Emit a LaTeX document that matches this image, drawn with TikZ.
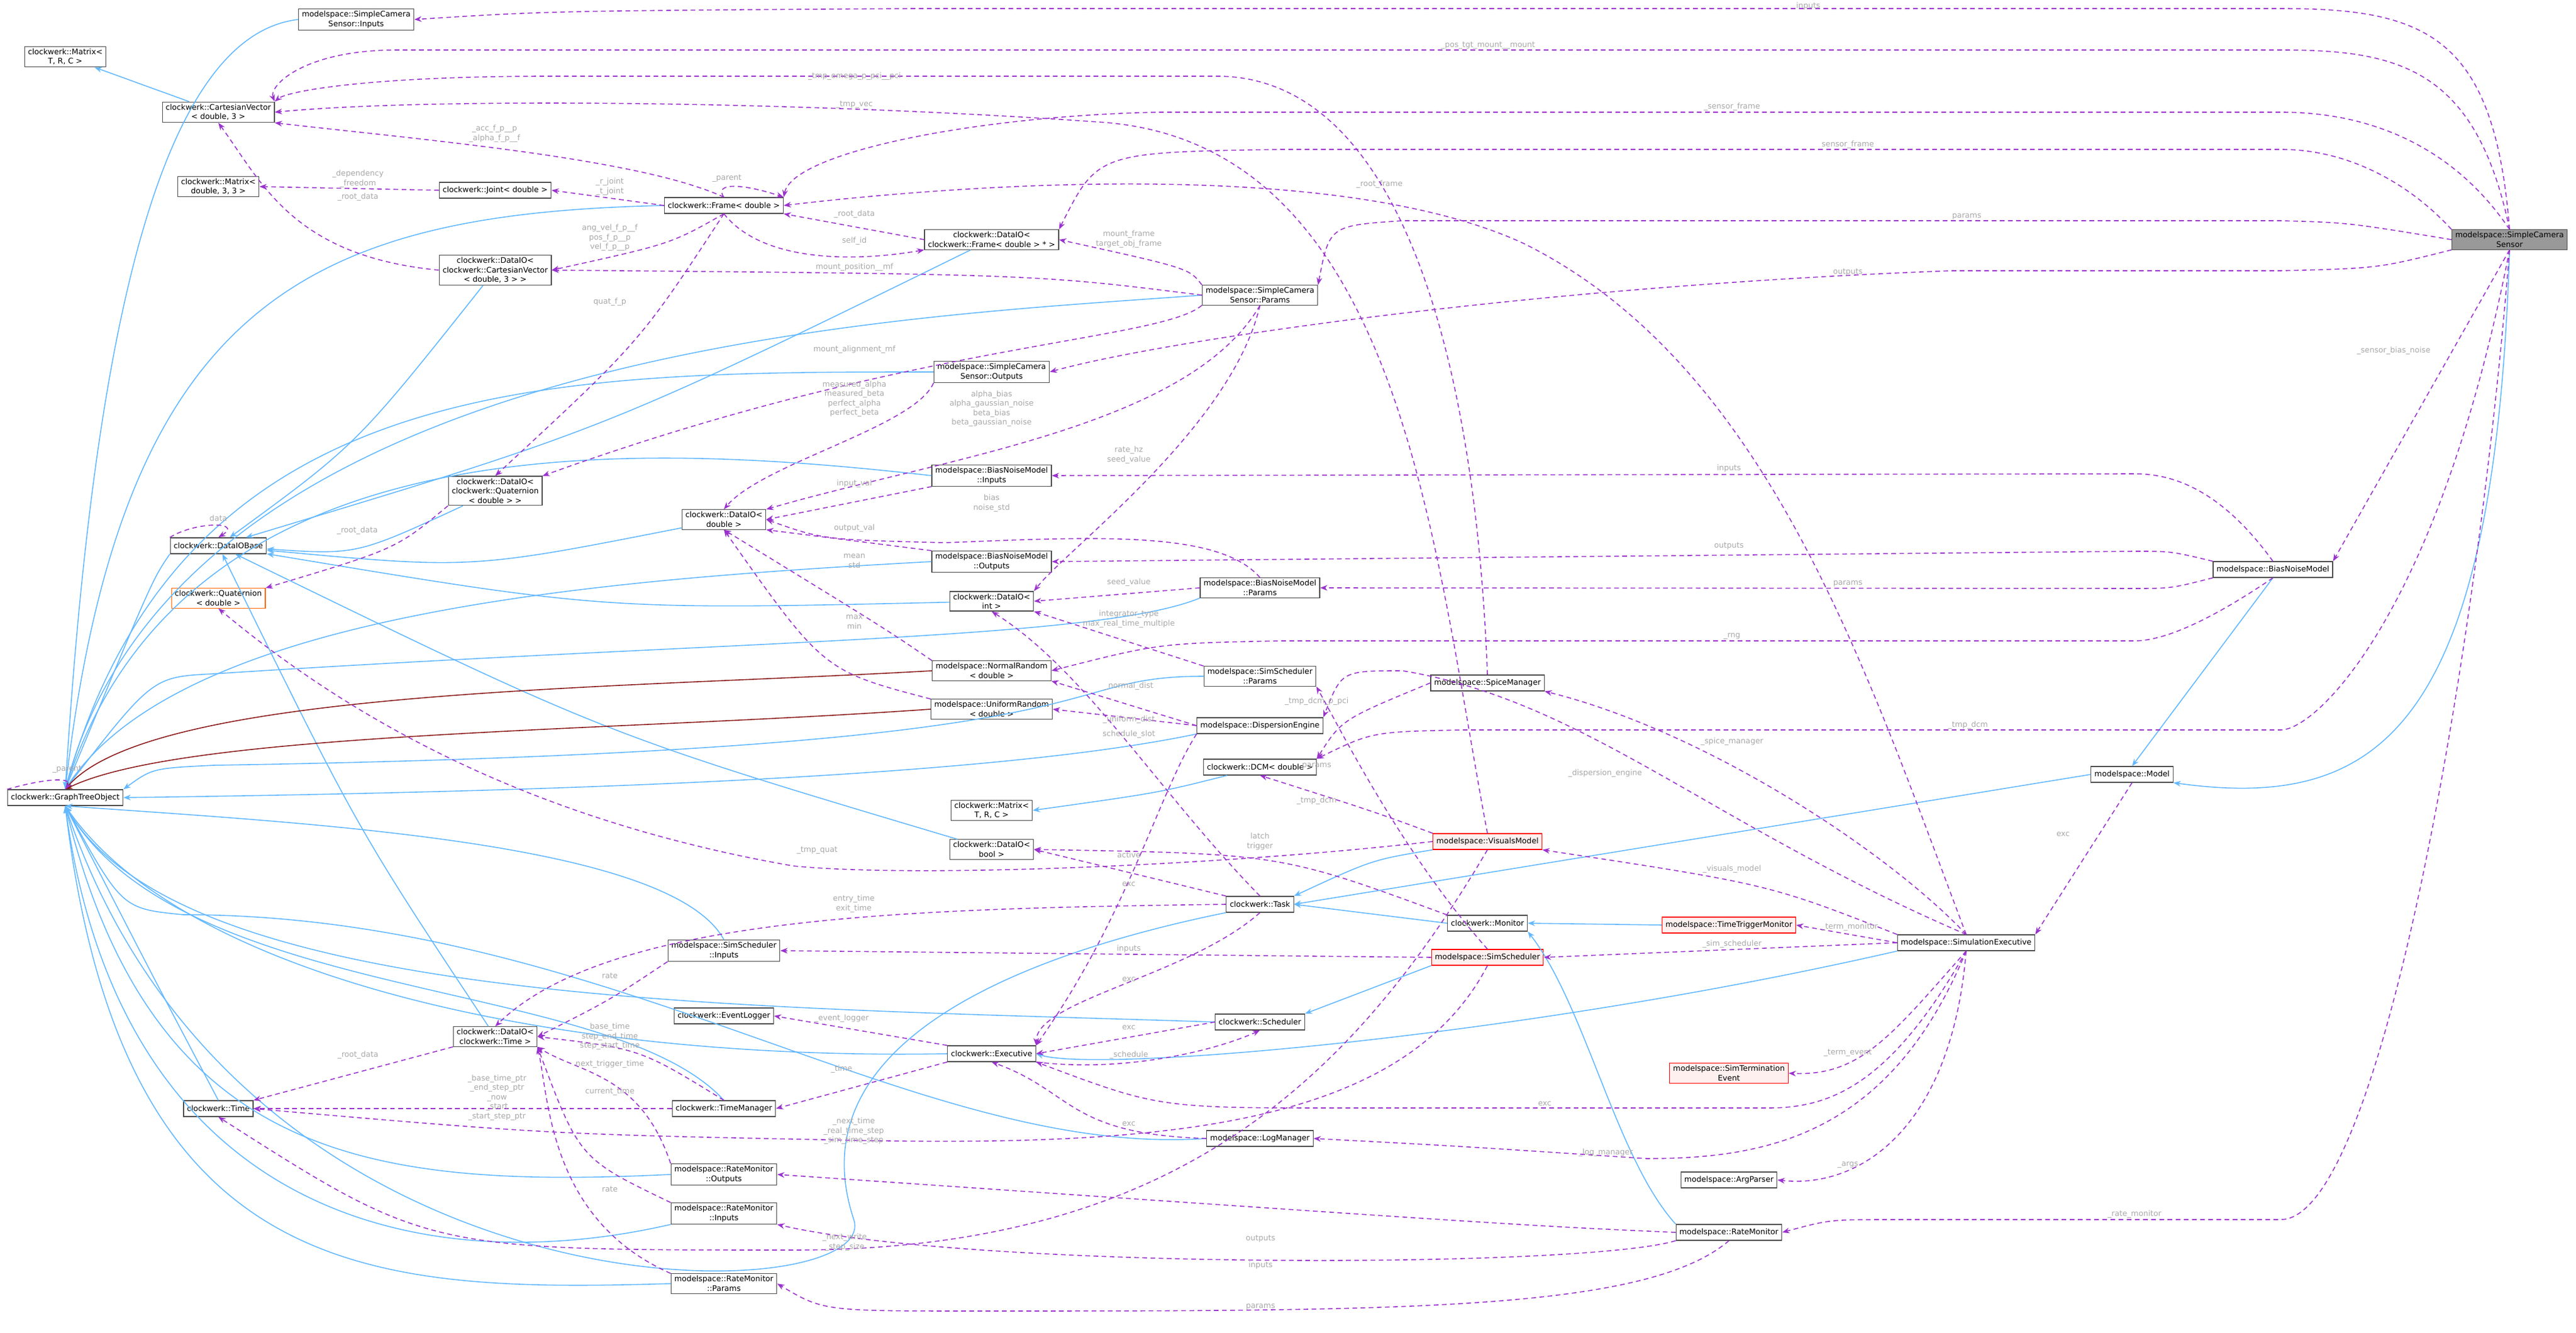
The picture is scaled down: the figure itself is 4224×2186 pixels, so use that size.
\documentclass[tikz,border=0pt]{standalone}
\usepackage{fontspec}
\setmainfont{DejaVu Sans}
\usetikzlibrary{arrows.meta,positioning,calc}
\definecolor{usecol}{HTML}{9A32CD}
\definecolor{inhcol}{HTML}{63B8FF}
\definecolor{privcol}{HTML}{8B1A1A}
\definecolor{lblcol}{HTML}{A8A8A8}
\begin{document}
\begin{tikzpicture}[x=0.01cm, y=-0.01cm,
  cls/.style={draw=black!70, fill=white, rectangle, inner xsep=1.6pt, inner ysep=1pt, minimum height=0.26cm, align=center, font=\fontsize{3.6}{4.4}\selectfont, line width=0.35pt},
  redcls/.style={cls, draw=red, fill=red!6},
  orcls/.style={cls, draw=orange!80!red},
  maincls/.style={cls, fill=black!40},
  use/.style={usecol, dashed, dash pattern=on 2.2pt off 1.6pt, line width=0.45pt, -{Stealth[length=3.4pt,width=2.6pt]}},
  inh/.style={inhcol, line width=0.45pt, -{Stealth[length=3.4pt,width=2.6pt]}},
  priv/.style={privcol, line width=0.45pt, -{Stealth[length=3.4pt,width=2.6pt]}},
  lbl/.style={lblcol, align=center, inner sep=0pt, font=\fontsize{3.6}{4.4}\selectfont},
  ]
  \useasboundingbox (0,0) rectangle (4224,2186);

  % classes, left column
  \node (gto) [cls] at (107,1308) {clockwerk::GraphTreeObject};
  \node (mtrc) [cls] at (107,93) {clockwerk::Matrix\textless\\T, R, C \textgreater};
  \node (cv) [cls] at (358,184) {clockwerk::CartesianVector\\\textless{} double, 3 \textgreater};
  \node (m33) [cls] at (358,306) {clockwerk::Matrix\textless\\double, 3, 3 \textgreater};
  \node (diob) [cls] at (358,895) {clockwerk::DataIOBase};
  \node (quat) [orcls] at (358,981) {clockwerk::Quaternion\\\textless{} double \textgreater};
  \node (time) [cls] at (358,1818) {clockwerk::Time};
  % second column
  \node (scsin) [cls] at (584,32) {modelspace::SimpleCamera\\Sensor::Inputs};
  \node (joint) [cls] at (812,312) {clockwerk::Joint\textless{} double \textgreater};
  \node (dcv) [cls] at (812,443) {clockwerk::DataIO\textless\\clockwerk::CartesianVector\\\textless{} double, 3 \textgreater{} \textgreater};
  \node (dquat) [cls] at (812,805) {clockwerk::DataIO\textless\\clockwerk::Quaternion\\\textless{} double \textgreater{} \textgreater};
  \node (dtime) [cls] at (812,1700) {clockwerk::DataIO\textless\\clockwerk::Time \textgreater};
  % third column
  \node (frame) [cls] at (1187,337) {clockwerk::Frame\textless{} double \textgreater};
  \node (ddbl) [cls] at (1187,852) {clockwerk::DataIO\textless\\double \textgreater};
  \node (ssin) [cls] at (1187,1559) {modelspace::SimScheduler\\::Inputs};
  \node (evlog) [cls] at (1187,1666) {clockwerk::EventLogger};
  \node (timem) [cls] at (1187,1818) {clockwerk::TimeManager};
  \node (rmout) [cls] at (1187,1926) {modelspace::RateMonitor\\::Outputs};
  \node (rmin) [cls] at (1187,1990) {modelspace::RateMonitor\\::Inputs};
  \node (rmpar) [cls] at (1187,2105) {modelspace::RateMonitor\\::Params};
  % fourth column
  \node (dfr) [cls] at (1626,393) {clockwerk::DataIO\textless\\clockwerk::Frame\textless{} double \textgreater{} * \textgreater};
  \node (scsout) [cls] at (1626,610) {modelspace::SimpleCamera\\Sensor::Outputs};
  \node (bnmin) [cls] at (1626,780) {modelspace::BiasNoiseModel\\::Inputs};
  \node (bnmout) [cls] at (1626,921) {modelspace::BiasNoiseModel\\::Outputs};
  \node (dint) [cls] at (1626,986) {clockwerk::DataIO\textless\\int \textgreater};
  \node (nrand) [cls] at (1626,1100) {modelspace::NormalRandom\\\textless{} double \textgreater};
  \node (urand) [cls] at (1626,1163) {modelspace::UniformRandom\\\textless{} double \textgreater};
  \node (mtrc2) [cls] at (1626,1329) {clockwerk::Matrix\textless\\T, R, C \textgreater};
  \node (dbool) [cls] at (1626,1393) {clockwerk::DataIO\textless\\bool \textgreater};
  \node (exec) [cls] at (1626,1728) {clockwerk::Executive};
  % fifth column
  \node (scspar) [cls] at (2066,484) {modelspace::SimpleCamera\\Sensor::Params};
  \node (bnmpar) [cls] at (2066,964) {modelspace::BiasNoiseModel\\::Params};
  \node (sspar) [cls] at (2066,1109) {modelspace::SimScheduler\\::Params};
  \node (disp) [cls] at (2066,1190) {modelspace::DispersionEngine};
  \node (dcm) [cls] at (2066,1258) {clockwerk::DCM\textless{} double \textgreater};
  \node (task) [cls] at (2066,1483) {clockwerk::Task};
  \node (sched) [cls] at (2066,1676) {clockwerk::Scheduler};
  \node (logm) [cls] at (2066,1867) {modelspace::LogManager};
  % sixth column
  \node (spice) [cls] at (2439,1120) {modelspace::SpiceManager};
  \node (vis) [redcls] at (2439,1380) {modelspace::VisualsModel};
  \node (mon) [cls] at (2439,1514) {clockwerk::Monitor};
  \node (ssched) [redcls] at (2439,1570) {modelspace::SimScheduler};
  % seventh column
  \node (ttm) [redcls] at (2835,1517) {modelspace::TimeTriggerMonitor};
  \node (term) [redcls] at (2835,1760) {modelspace::SimTermination\\Event};
  \node (argp) [cls] at (2835,1935) {modelspace::ArgParser};
  \node (ratem) [cls] at (2835,2021) {modelspace::RateMonitor};
  % right part
  \node (simexec) [cls] at (3224,1546) {modelspace::SimulationExecutive};
  \node (model) [cls] at (3496,1270) {modelspace::Model};
  \node (bnm) [cls] at (3727,934) {modelspace::BiasNoiseModel};
  \node (scs) [maincls] at (4115,393) {modelspace::SimpleCamera\\Sensor};

  % inheritance
  \draw[inh] (cv) -- (mtrc);
  \draw[inh] (dcm) .. controls (1900,1300) .. (mtrc2.east);
  \foreach \src in {dcv,dfr,dquat,ddbl,dint,dbool,dtime}
    \draw[inh] (\src) .. controls ($(\src)!0.5!(diob)+(0,60)$) .. (diob);
  \draw[inh] (scsin.west) .. controls (250,60) and (150,600) .. (gto.north);
  \draw[inh] (frame.west) .. controls (500,350) and (200,500) .. (gto.north);
  \draw[inh] (scspar.west) .. controls (1500,520) and (300,560) .. (gto.north);
  \draw[inh] (scsout.west) .. controls (900,610) and (300,610) .. (gto.north);
  \draw[inh] (bnmin.west) .. controls (1000,720) and (300,700) .. (gto.north);
  \draw[inh] (bnmout.west) .. controls (1000,950) and (300,1000) .. (gto.north);
  \draw[inh] (bnmpar.south west) .. controls (1800,1050) and (1200,1050) .. (350,1105) .. controls (250,1110) .. (gto.north);
  \draw[inh] (diob.south west) .. controls (250,950) .. (gto.north);
  \draw[priv] (nrand.west) .. controls (1000,1130) and (250,1130) .. (gto.north);
  \draw[priv] (urand.west) .. controls (1000,1200) and (300,1200) .. (gto.north);
  \draw[inh] (sspar.west) .. controls (1700,1109) and (1900,1230) .. (350,1255) .. controls (250,1260) .. (gto.north east);
  \draw[inh] (disp.south west) .. controls (1600,1280) and (800,1300) .. (gto.east);
  \draw[inh] (task.south west) .. controls (1700,1560) and (1300,1700) .. (1400,2000) .. controls (1450,2150) and (400,2190) .. (gto.south);
  \draw[inh] (sched.west) .. controls (1200,1650) and (300,1650) .. (gto.south);
  \draw[inh] (exec.west) .. controls (900,1740) and (300,1600) .. (gto.south);
  \draw[inh] (logm.west) .. controls (1500,1900) and (1000,1500) .. (300,1500) .. controls (200,1490) .. (gto.south);
  \draw[inh] (ssin.north) .. controls (1100,1380) and (500,1350) .. (gto.south);
  \draw[inh] (timem.north) .. controls (1000,1600) and (300,1650) .. (gto.south);
  \draw[inh] (time.north) .. controls (250,1600) .. (gto.south);
  \draw[inh] (rmout.west) .. controls (600,1950) and (250,1900) .. (gto.south);
  \draw[inh] (rmin.south west) .. controls (700,2100) and (200,2000) .. (gto.south);
  \draw[inh] (rmpar.west) .. controls (600,2120) and (200,2100) .. (gto.south);
  \draw[inh] (vis.south west) .. controls (2250,1410) .. (task.north east);
  \draw[inh] (model.west) -- (task.east);
  \draw[inh] (mon.west) -- (task.east);
  \draw[inh] (ttm.west) -- (mon.east);
  \draw[inh] (ssched.south west) -- (sched.north east);
  \draw[inh] (simexec.south west) .. controls (2500,1700) and (1800,1760) .. (exec.east);
  \draw[inh] (ratem.north west) .. controls (2650,1900) and (2600,1650) .. (mon.south east);
  \draw[inh] (scs.south) .. controls (4090,1200) and (3900,1330) .. (model.south east);
  \draw[inh] (bnm.south) -- (model.north);

  % usage, SimpleCameraSensor
  \draw[use] (scs.north) .. controls (4090,60) and (3980,14) .. (3740,14) -- (1500,14) .. controls (900,18) .. (scsin.east);
  \draw[use] (scs.north) .. controls (4060,110) and (3930,82) .. (3740,82) -- (650,82) .. controls (500,82) and (440,140) .. (cv.north east);
  \draw[use] (scs.north) .. controls (4030,250) and (3900,184) .. (3740,184) -- (1900,184) .. controls (1600,190) and (1300,250) .. (frame.north east);
  \draw[use] (scs.north west) .. controls (3950,300) and (3850,245) .. (3740,245) -- (2100,245) .. controls (1800,250) .. (dfr.north east);
  \draw[use] (scs.west) .. controls (3850,365) .. (3740,362) -- (2300,362) .. controls (2180,370) .. (scspar.north east);
  \draw[use] (scs.south west) .. controls (3900,440) .. (3740,444) -- (3200,444) .. controls (2500,470) and (1900,560) .. (scsout.east);
  \draw[use] (scs.south) -- (bnm.north east);
  \draw[use] (scs.south) .. controls (4000,1000) and (3800,1197) .. (3740,1197) -- (2400,1197) .. controls (2250,1200) .. (dcm.north east);
  \draw[use] (scs.south) .. controls (4060,1100) and (3900,2000) .. (3740,2000) -- (3100,2000) .. controls (3000,2000) .. (ratem.east);
  \node (l1) [lbl] at (2965,10) {inputs};
  \node (l2) [lbl] at (2440,75) {\_pos\_tgt\_mount\_\_mount};
  \node (l3) [lbl] at (2840,175) {\_sensor\_frame};
  \node (l4) [lbl] at (3030,237) {sensor\_frame};
  \node (l5) [lbl] at (3225,355) {params};
  \node (l6) [lbl] at (3030,446) {outputs};
  \node (l7) [lbl] at (3925,575) {\_sensor\_bias\_noise};
  \node (l8) [lbl] at (3227,1189) {\_tmp\_dcm};
  \node (l9) [lbl] at (3500,1991) {\_rate\_monitor};

  % usage, BiasNoiseModel
  \draw[use] (bnm.north) .. controls (3640,800) and (3560,777) .. (3500,777) -- (bnmin.east);
  \draw[use] (bnm.north west) .. controls (3560,904) .. (3500,904) -- (bnmout.east);
  \draw[use] (bnm.south west) .. controls (3560,965) .. (3500,965) -- (bnmpar.east);
  \draw[use] (bnm.south) .. controls (3650,1000) and (3560,1051) .. (3500,1051) -- (2100,1051) .. controls (1900,1055) .. (nrand.east);
  \node (l10) [lbl] at (2835,768) {inputs};
  \node (l11) [lbl] at (2835,895) {outputs};
  \node (l12) [lbl] at (3030,957) {params};
  \node (l13) [lbl] at (2840,1043) {\_rng};

  % usage, SimulationExecutive
  \draw[use] (simexec.north) .. controls (3060,1100) and (2900,600) .. (2500,400) .. controls (2200,260) and (1600,300) .. (frame.east);
  \draw[use] (simexec.north) .. controls (3100,1400) and (2800,1200) .. (spice.south east);
  \draw[use] (simexec.north) .. controls (2800,1350) and (2600,1150) .. (2300,1100) .. controls (2200,1100) .. (disp.north east);
  \draw[use] (simexec.north west) .. controls (2900,1450) .. (vis.south east);
  \draw[use] (simexec.west) -- (ttm.east);
  \draw[use] (simexec.west) -- (ssched.east);
  \draw[use] (simexec.south) .. controls (3100,1700) and (3050,1765) .. (term.east);
  \draw[use] (simexec.south) .. controls (3100,1780) and (3000,1817) .. (2900,1817) -- (2200,1817) .. controls (1900,1817) .. (exec.south east);
  \draw[use] (simexec.south) .. controls (3100,1860) and (2900,1900) .. (2700,1900) .. controls (2400,1880) .. (logm.east);
  \draw[use] (simexec.south) .. controls (3200,1850) and (3050,1950) .. (argp.east);
  \draw[use] (model.south) -- (simexec.north east);
  \node (l14) [lbl] at (2262,302) {\_root\_frame};
  \node (l15) [lbl] at (2840,1216) {\_spice\_manager};
  \node (l16) [lbl] at (2632,1268) {\_dispersion\_engine};
  \node (l17) [lbl] at (2840,1425) {\_visuals\_model};
  \node (l18) [lbl] at (3033,1520) {\_term\_monitor};
  \node (l19) [lbl] at (2840,1548) {\_sim\_scheduler};
  \node (l20) [lbl] at (3030,1727) {\_term\_event};
  \node (l21) [lbl] at (2533,1810) {exc};
  \node (l22) [lbl] at (2633,1890) {\_log\_manager};
  \node (l23) [lbl] at (3030,1910) {\_args};
  \node (l24) [lbl] at (3383,1368) {exc};

  % usage, RateMonitor
  \draw[use] (ratem.west) .. controls (2500,2010) .. (rmout.east);
  \draw[use] (ratem.south west) .. controls (2600,2080) and (1600,2083) .. (rmin.south east);
  \draw[use] (ratem.south) .. controls (2700,2150) and (2300,2150) .. (1600,2150) .. controls (1350,2150) .. (rmpar.east);
  \node (l25) [lbl] at (2067,2031) {outputs};
  \node (l26) [lbl] at (2067,2075) {inputs};
  \node (l27) [lbl] at (2067,2143) {params};

  % usage, parameters and signals
  \draw[use] (scspar.north west) .. controls (1950,440) .. (dfr.east);
  \draw[use] (scspar.west) .. controls (1700,450) .. (dcv.east);
  \draw[use] (scspar.south west) .. controls (1900,560) and (1500,560) .. (dquat.north east);
  \draw[use] (scspar.south) .. controls (1950,700) and (1550,750) .. (ddbl.north east);
  \draw[use] (scspar.south) .. controls (2020,700) and (1750,900) .. (dint.north east);
  \draw[use] (scsout.south west) .. controls (1500,700) and (1250,760) .. (ddbl.north);
  \draw[use] (bnmin.south west) -- (ddbl.east);
  \draw[use] (bnmout.north west) -- (ddbl.south east);
  \draw[use] (bnmpar.north) .. controls (2000,870) and (1800,880) .. (1550,890) .. controls (1350,885) .. (ddbl.east);
  \draw[use] (bnmpar.west) -- (dint.east);
  \draw[use] (nrand.north west) .. controls (1450,1030) .. (ddbl.south);
  \draw[use] (urand.north west) .. controls (1350,1100) .. (ddbl.south);
  \node (l28) [lbl] at (1851,392) {mount\_frame\\target\_obj\_frame};
  \node (l29) [lbl] at (1401,438) {mount\_position\_\_mf};
  \node (l30) [lbl] at (1401,573) {mount\_alignment\_mf};
  \node (l31) [lbl] at (1626,670) {alpha\_bias\\alpha\_gaussian\_noise\\beta\_bias\\beta\_gaussian\_noise};
  \node (l32) [lbl] at (1851,746) {rate\_hz\\seed\_value};
  \node (l33) [lbl] at (1401,654) {measured\_alpha\\measured\_beta\\perfect\_alpha\\perfect\_beta};
  \node (l34) [lbl] at (1401,793) {input\_val};
  \node (l35) [lbl] at (1401,866) {output\_val};
  \node (l36) [lbl] at (1626,825) {bias\\noise\_std};
  \node (l37) [lbl] at (1851,955) {seed\_value};
  \node (l38) [lbl] at (1401,920) {mean\\std};
  \node (l39) [lbl] at (1401,1020) {max\\min};

  % usage, frames
  \draw[use] (frame.north) .. controls (1050,260) and (700,230) .. (cv.south east);
  \draw[use] (frame.west) -- (joint.east);
  \draw[use] (frame.north) .. controls (1170,300) and (1215,300) .. (frame.north east);
  \draw[use] (frame.south) .. controls (1100,400) .. (dcv.east);
  \draw[use] (frame.south) .. controls (1250,430) and (1400,430) .. (dfr.south west);
  \draw[use] (frame.south) .. controls (1050,560) .. (dquat.north);
  \draw[use] (joint.west) -- (m33.east);
  \draw[use] (dcv.west) .. controls (480,420) and (430,300) .. (cv.south);
  \draw[use] (dfr.west) -- (frame.south east);
  \draw[use] (dquat.south west) .. controls (650,900) .. (quat.north east);
  \draw[use] (dtime.south west) -- (time.north east);
  \draw[use] (diob.north west) .. controls (320,855) and (400,855) .. (diob.north);
  \draw[use] (gto.north west) .. controls (80,1275) and (120,1275) .. (gto.north);
  \node (l40) [lbl] at (811,219) {\_acc\_f\_p\_\_p\\\_alpha\_f\_p\_\_f};
  \node (l41) [lbl] at (1000,306) {\_r\_joint\\\_t\_joint};
  \node (l42) [lbl] at (1192,293) {\_parent};
  \node (l43) [lbl] at (1000,390) {ang\_vel\_f\_p\_\_f\\pos\_f\_p\_\_p\\vel\_f\_p\_\_p};
  \node (l44) [lbl] at (1401,395) {self\_id};
  \node (l45) [lbl] at (1000,495) {quat\_f\_p};
  \node (l46) [lbl] at (587,293) {\_dependency\\\_freedom};
  \node (l47) [lbl] at (587,323) {\_root\_data};
  \node (l48) [lbl] at (1401,351) {\_root\_data};
  \node (l49) [lbl] at (586,870) {\_root\_data};
  \node (l50) [lbl] at (587,1730) {\_root\_data};
  \node (l51) [lbl] at (358,850) {data};
  \node (l52) [lbl] at (110,1262) {\_parent};

  % usage, models and scheduling
  \draw[use] (sspar.north west) -- (dint.south east);
  \draw[use] (disp.west) -- (nrand.south east);
  \draw[use] (disp.west) -- (urand.east);
  \draw[use] (disp.south west) .. controls (1900,1300) and (1850,1500) .. (exec.north east);
  \draw[use] (spice.north) .. controls (2420,600) and (2300,130) .. (2000,125) -- (900,125) .. controls (600,125) and (470,150) .. (cv.north east);
  \draw[use] (spice.west) .. controls (2200,1180) .. (dcm.north east);
  \draw[use] (vis.north) .. controls (2350,900) and (2300,230) .. (1800,200) .. controls (1300,165) and (700,160) .. (cv.east);
  \draw[use] (vis.north west) .. controls (2250,1330) .. (dcm.south);
  \draw[use] (vis.west) .. controls (2000,1420) and (1500,1440) .. (1300,1420) .. controls (900,1350) and (600,1200) .. (quat.south);
  \draw[use] (vis.south) .. controls (2200,1800) and (1900,2050) .. (1300,2050) .. controls (700,2050) .. (time.south);
  \draw[use] (ssched.north) .. controls (2300,1400) and (2200,1200) .. (sspar.south east);
  \draw[use] (task.north west) -- (dbool.east);
  \draw[use] (task.west) .. controls (1500,1490) and (1000,1500) .. (dtime.north);
  \draw[use] (task.north) .. controls (1900,1300) and (1780,1100) .. (dint.south);
  \draw[use] (task.south) .. controls (1950,1600) and (1700,1640) .. (exec.north east);
  \draw[use] (mon.north west) .. controls (2100,1400) .. (dbool.east);
  \draw[use] (ssched.west) -- (ssin.east);
  \draw[use] (ssched.south) .. controls (2300,1850) and (1900,1880) .. (1400,1870) .. controls (900,1860) .. (time.east);
  \draw[use] (sched.west) -- (exec.east);
  \draw[use] (exec.south east) .. controls (1850,1760) and (2000,1720) .. (sched.south);
  \draw[use] (logm.west) .. controls (1750,1860) and (1760,1790) .. (exec.south);
  \draw[use] (exec.north west) -- (evlog.east);
  \draw[use] (exec.south west) -- (timem.east);
  \draw[use] (ssin.south west) .. controls (1000,1640) .. (dtime.east);
  \draw[use] (timem.north) .. controls (1050,1720) .. (dtime.east);
  \draw[use] (timem.west) -- (time.east);
  \draw[use] (rmout.north west) .. controls (1050,1760) and (950,1760) .. (dtime.south east);
  \draw[use] (rmin.north west) .. controls (950,1900) .. (dtime.south east);
  \draw[use] (rmpar.north west) .. controls (900,2000) and (900,1800) .. (dtime.south east);
  \node (l53) [lbl] at (1851,1015) {integrator\_type\\max\_real\_time\_multiple};
  \node (l54) [lbl] at (1851,1125) {\_normal\_dist};
  \node (l55) [lbl] at (1851,1180) {\_uniform\_dist};
  \node (l56) [lbl] at (1851,1204) {schedule\_slot};
  \node (l57) [lbl] at (1401,125) {\_tmp\_omega\_p\_pci\_\_pci};
  \node (l58) [lbl] at (2159,1150) {\_tmp\_dcm\_p\_pci};
  \node (l59) [lbl] at (1401,172) {\_tmp\_vec};
  \node (l60) [lbl] at (2159,1313) {\_tmp\_dcm};
  \node (l61) [lbl] at (1340,1395) {\_tmp\_quat};
  \node (l62) [lbl] at (1385,2037) {\_next\_write\\\_step\_size};
  \node (l63) [lbl] at (2159,1256) {params};
  \node (l64) [lbl] at (1851,1402) {active};
  \node (l65) [lbl] at (1400,1482) {entry\_time\\exit\_time};
  \node (l66) [lbl] at (1851,1450) {exc};
  \node (l67) [lbl] at (1851,1606) {exc};
  \node (l68) [lbl] at (1851,1685) {exc};
  \node (l69) [lbl] at (1851,1843) {exc};
  \node (l70) [lbl] at (1851,1730) {\_schedule};
  \node (l71) [lbl] at (2066,1380) {latch\\trigger};
  \node (l72) [lbl] at (1851,1556) {inputs};
  \node (l73) [lbl] at (1400,1855) {\_next\_time\\\_real\_time\_step\\\_sim\_time\_step};
  \node (l74) [lbl] at (1380,1670) {\_event\_logger};
  \node (l75) [lbl] at (1380,1753) {\_time};
  \node (l76) [lbl] at (1000,1600) {rate};
  \node (l77) [lbl] at (1000,1700) {base\_time\\step\_end\_time\\step\_start\_time};
  \node (l78) [lbl] at (815,1800) {\_base\_time\_ptr\\\_end\_step\_ptr\\\_now\\\_start\\\_start\_step\_ptr};
  \node (l79) [lbl] at (1000,1745) {next\_trigger\_time};
  \node (l80) [lbl] at (1000,1790) {current\_time};
  \node (l81) [lbl] at (1000,1950) {rate};
\end{tikzpicture}
\end{document}
